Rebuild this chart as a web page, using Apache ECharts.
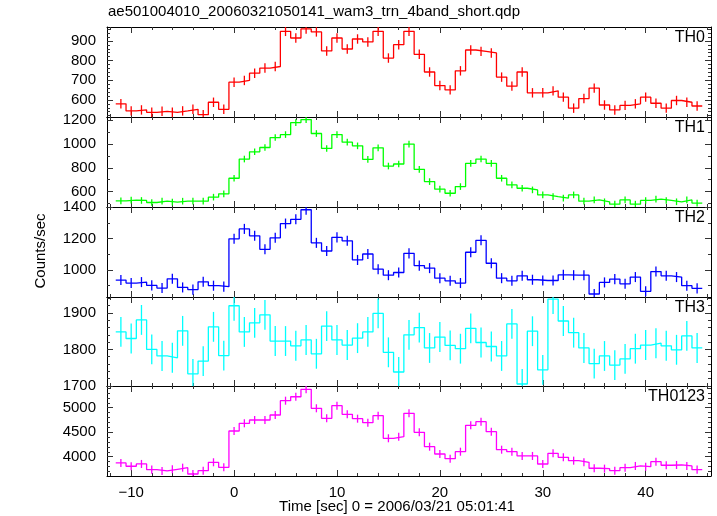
<!DOCTYPE html>
<html><head><meta charset="utf-8">
<script src="https://cdn.jsdelivr.net/npm/echarts@6/dist/echarts.min.js"></script>
<style>html,body{margin:0;padding:0;background:#fff}#c{width:717px;height:516px}</style>
</head><body><div id="c"></div>
<script>
const titleText = 'ae501004010_20060321050141_wam3_trn_4band_short.qdp';
const xTitle = 'Time [sec] 0 = 2006/03/21 05:01:41';
const yTitle = 'Counts/sec';
const panelNames = ['TH0', 'TH1', 'TH2', 'TH3', 'TH0123'];
const colors = ['#ff0000', '#00ff00', '#0000ff', '#00ffff', '#ff00ff'];

const times = [-11,-10,-9,-8,-7,-6,-5,-4,-3,-2,-1,0,1,2,3,4,5,6,7,8,9,10,11,12,13,14,15,16,17,18,19,20,21,22,23,24,25,26,27,28,29,30,31,32,33,34,35,36,37,38,39,40,41,42,43,44,45];
const binWidth = 1;

const th0 = [580,544,549,537,542,537,544,552,525,588,552,690,699,736,762,770,949,915,961,946,849,915,859,910,895,949,813,881,949,832,742,673,651,748,854,847,839,716,670,742,636,636,646,614,558,607,660,574,549,572,580,614,583,558,597,588,569];
const th1 = [522,528,525,508,519,511,519,519,519,553,581,712,874,935,971,1055,1080,1181,1206,1089,963,1080,1016,985,871,968,815,832,1000,787,684,620,586,642,838,874,838,712,656,628,614,572,558,545,572,519,530,514,494,530,494,525,536,525,514,530,503];
const th2 = [935,916,922,901,884,943,888,874,924,899,893,1198,1261,1217,1131,1204,1295,1322,1383,1172,1120,1207,1185,1063,1101,1004,966,983,1105,1027,1011,947,930,916,1112,1188,1042,947,930,962,937,932,932,968,966,966,846,920,941,911,954,863,989,962,954,899,882];
const th3 = [1848,1830,1881,1800,1782,1777,1851,1733,1768,1862,1783,1920,1848,1873,1895,1823,1823,1810,1826,1788,1864,1826,1812,1831,1848,1899,1792,1738,1840,1860,1804,1834,1811,1802,1858,1819,1808,1782,1870,1705,1850,1744,1938,1878,1846,1804,1761,1782,1757,1774,1802,1812,1817,1810,1799,1837,1804];
const th0123 = [3872,3805,3852,3736,3709,3743,3776,3647,3715,3886,3784,4525,4682,4749,4749,4851,5143,5224,5375,4988,4784,5041,4865,4776,4694,4837,4376,4408,4886,4498,4204,4055,3960,4102,4641,4714,4510,4143,4102,4015,4015,3851,4069,3988,3919,3886,3764,3756,3715,3776,3811,3796,3898,3825,3831,3811,3736];
const seriesValues = [th0, th1, th2, th3, th0123];
const errors = [24, 28, 32, 41, 82];

const xRange = [-12.35, 46.35];
const xMajorTicks = [-10, 0, 10, 20, 30, 40];
const xMinorStep = 2;
const yRanges = [[513, 971], [470, 1228], [827, 1400.5], [1699.5, 1944], [3606, 5443]];
const yMajorTicks = [[600, 700, 800, 900], [600, 800, 1000, 1200], [1000, 1200, 1400], [1700, 1800, 1900], [4000, 4500, 5000]];
const yMinorSteps = [20, 100, 100, 20, 100];

// layout
const gridTops = [27, 117, 207, 297, 386];
const gridBottom = 476;
const gridLeft = 107, gridWidth = 604;
const FONT = 'Liberation Sans, Arial, Helvetica, sans-serif';

function stepsFrom(lo, hi, step) {
  const out = [];
  const start = Math.ceil(lo / step) * step;
  for (let v = start; v <= hi + 1e-9; v += step) out.push(+v.toFixed(6));
  return out;
}
const xMinorTicks = stepsFrom(xRange[0], xRange[1], xMinorStep);

const grids = [], xAxes = [], yAxes = [], series = [], graphics = [];
const lineStyleAxis = { color: '#000', width: 1 };
const tickStyle = { color: '#333', width: 1 };

for (let i = 0; i < 5; i++) {
  const top = gridTops[i];
  const bottom = i < 4 ? gridTops[i + 1] : gridBottom;
  grids.push({ left: gridLeft, width: gridWidth, top: top, height: bottom - top, containLabel: false });
  const yMinor = stepsFrom(yRanges[i][0], yRanges[i][1], yMinorSteps[i]);
  const base = { gridIndex: i, type: 'value', splitLine: { show: false }, silent: true };
  // x axes
  const xb = Object.assign({}, base, { min: xRange[0], max: xRange[1] });
  xAxes.push(Object.assign({}, xb, {
    position: 'bottom',
    axisLine: { show: true, onZero: false, lineStyle: lineStyleAxis },
    axisTick: { show: true, inside: true, length: 6, customValues: xMajorTicks, lineStyle: tickStyle },
    axisLabel: { show: i === 4, customValues: xMajorTicks, margin: 9, fontSize: 15, color: '#000', fontFamily: FONT,
      formatter: v => String(v).replace('-', '\u2212') }
  }));
  xAxes.push(Object.assign({}, xb, {
    position: 'bottom',
    axisLine: { show: false, onZero: false },
    axisTick: { show: true, inside: true, length: 3, customValues: xMinorTicks, lineStyle: tickStyle },
    axisLabel: { show: false }
  }));
  xAxes.push(Object.assign({}, xb, {
    position: 'top',
    axisLine: { show: true, onZero: false, lineStyle: lineStyleAxis },
    axisTick: { show: true, inside: true, length: 6, customValues: xMajorTicks, lineStyle: tickStyle },
    axisLabel: { show: false }
  }));
  xAxes.push(Object.assign({}, xb, {
    position: 'top',
    axisLine: { show: false, onZero: false },
    axisTick: { show: true, inside: true, length: 3, customValues: xMinorTicks, lineStyle: tickStyle },
    axisLabel: { show: false }
  }));
  // y axes
  const yb = Object.assign({}, base, { min: yRanges[i][0], max: yRanges[i][1] });
  yAxes.push(Object.assign({}, yb, {
    position: 'left',
    axisLine: { show: true, onZero: false, lineStyle: lineStyleAxis },
    axisTick: { show: true, inside: true, length: 6, customValues: yMajorTicks[i], lineStyle: tickStyle },
    axisLabel: { show: true, customValues: yMajorTicks[i], margin: 11, fontSize: 15, color: '#000', fontFamily: FONT,
      formatter: v => String(v) }
  }));
  yAxes.push(Object.assign({}, yb, {
    position: 'left',
    axisLine: { show: false, onZero: false },
    axisTick: { show: true, inside: true, length: 3, customValues: yMinor, lineStyle: tickStyle },
    axisLabel: { show: false }
  }));
  yAxes.push(Object.assign({}, yb, {
    position: 'right',
    axisLine: { show: true, onZero: false, lineStyle: lineStyleAxis },
    axisTick: { show: true, inside: true, length: 6, customValues: yMajorTicks[i], lineStyle: tickStyle },
    axisLabel: { show: false }
  }));
  yAxes.push(Object.assign({}, yb, {
    position: 'right',
    axisLine: { show: false, onZero: false },
    axisTick: { show: true, inside: true, length: 3, customValues: yMinor, lineStyle: tickStyle },
    axisLabel: { show: false }
  }));

  const vals = seriesValues[i];
  const stepData = [];
  times.forEach((t, k) => {
    stepData.push([t - binWidth / 2, vals[k]]);
    stepData.push([t + binWidth / 2, vals[k]]);
  });
  series.push({
    type: 'line', xAxisIndex: 4 * i, yAxisIndex: 4 * i, data: stepData,
    showSymbol: false, symbol: 'none', animation: false, silent: true,
    lineStyle: { color: colors[i], width: 1.3 }, itemStyle: { color: colors[i] }, clip: true
  });
  series.push({
    type: 'custom', xAxisIndex: 4 * i, yAxisIndex: 4 * i, animation: false, silent: true, clip: true,
    itemStyle: { color: colors[i] },
    data: times.map((t, k) => [t, vals[k], errors[i]]),
    renderItem: function (params, api) {
      const x = api.value(0), y = api.value(1), e = api.value(2);
      const a = api.coord([x, y - e]), b = api.coord([x, y + e]);
      return { type: 'line', shape: { x1: a[0], y1: a[1], x2: b[0], y2: b[1] },
        style: { stroke: colors[i], lineWidth: 1.3 } };
    }
  });
  graphics.push({ type: 'text', x: 705, y: top + 11,
    style: { text: panelNames[i], font: '16px ' + FONT, fill: '#000', textAlign: 'right', textVerticalAlign: 'middle' } });
}

graphics.push({ type: 'text', x: 108, y: 12, style: { text: titleText, font: '15px ' + FONT, fill: '#000', textVerticalAlign: 'middle' } });
graphics.push({ type: 'text', x: 397, y: 507, style: { text: xTitle, font: '15px ' + FONT, fill: '#000', textAlign: 'center', textVerticalAlign: 'middle' } });
graphics.push({ type: 'text', x: 41, y: 251, rotation: Math.PI / 2,
  style: { text: yTitle, font: '15px ' + FONT, fill: '#000', textAlign: 'center', textVerticalAlign: 'middle' } });

const chart = echarts.init(document.getElementById('c'), null, { renderer: 'canvas' });
chart.setOption({
  animation: false,
  backgroundColor: '#fff',
  grid: grids, xAxis: xAxes, yAxis: yAxes, series: series, graphic: graphics
});
</script></body></html>
